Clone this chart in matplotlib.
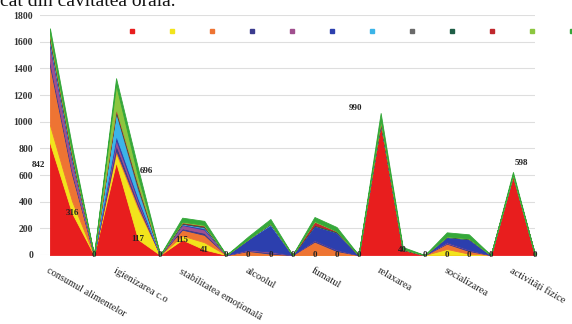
import matplotlib
matplotlib.use("Agg")
import matplotlib.pyplot as plt
from matplotlib.lines import Line2D
import numpy as np

# 23 answer points; every third category carries a label
categories = ["consumul alimentelor", "igienizarea c.o", "stabilitatea emoțională",
              "alcoolul", "fumatul", "relaxarea", "socializarea", "activități fizice"]
label_every = 3

red     = [842, 316, 0, 696, 117, 0, 115, 41, 0, 0, 0, 0, 0, 0, 0, 990, 40, 0, 0, 0, 0, 598, 0]
yellow  = [133, 90, 0, 70, 230, 0, 30, 55, 0, 0, 0, 0, 0, 0, 0, 0, 0, 0, 45, 10, 0, 0, 0]
orange  = [445, 200, 0, 20, 20, 0, 45, 55, 0, 30, 10, 0, 100, 30, 0, 0, 0, 0, 40, 20, 0, 0, 0]
navy    = [30, 20, 0, 40, 20, 0, 10, 15, 0, 5, 10, 0, 10, 10, 0, 0, 0, 0, 5, 10, 0, 0, 0]
mauve   = [120, 80, 0, 40, 20, 0, 25, 25, 0, 5, 5, 0, 0, 0, 0, 0, 0, 0, 5, 0, 0, 0, 0]
blue    = [20, 10, 0, 30, 20, 0, 5, 10, 0, 80, 200, 0, 110, 130, 0, 0, 0, 0, 40, 80, 0, 0, 0]
cyan    = [10, 10, 0, 170, 60, 0, 5, 5, 0, 0, 5, 0, 0, 0, 0, 0, 0, 0, 0, 0, 0, 0, 0]
gray    = [20, 10, 0, 10, 20, 0, 0, 5, 0, 0, 5, 0, 0, 0, 0, 0, 0, 0, 0, 0, 0, 0, 0]
dkgreen = [10, 10, 0, 10, 10, 0, 5, 5, 0, 0, 5, 0, 5, 5, 0, 5, 0, 0, 5, 5, 0, 0, 0]
dkred   = [10, 10, 0, 10, 10, 0, 5, 5, 0, 0, 0, 0, 25, 5, 0, 10, 5, 0, 0, 0, 0, 0, 0]
ltgreen = [20, 20, 0, 180, 60, 0, 5, 5, 0, 0, 0, 0, 5, 0, 0, 10, 0, 0, 0, 0, 0, 5, 0]
green   = [40, 40, 0, 50, 60, 0, 30, 30, 0, 20, 30, 0, 30, 30, 0, 50, 15, 0, 30, 30, 0, 20, 0]

series = [red, yellow, orange, navy, mauve, blue, cyan, gray, dkgreen, dkred, ltgreen, green]
colors = ["#e81e1e", "#f2e41c", "#ee7433", "#3b3b8e", "#a04f8e", "#2c3fae",
          "#3cb4e8", "#6a6a6a", "#1f5e46", "#c0282d", "#8cc63f", "#35a83a"]

# offsets (points) for the value labels of the first series
label_offsets = {0: (-8, -16), 3: (22, -6), 15: (-18, 11), 21: (6, 9)}

plt.rcParams["font.family"] = ["Liberation Serif", "DejaVu Serif"]

fig = plt.figure(figsize=(5.72, 3.24), dpi=100)
ax = fig.add_axes([40 / 572, 1 - 255 / 324, 495 / 572, 240 / 324])

x = np.arange(len(red))
polys = ax.stackplot(x, *series, colors=colors, linewidth=0.6)
for p, c in zip(polys, colors):
    p.set_edgecolor(c)

# value labels for the first series
for i, v in enumerate(red):
    dx, dy = label_offsets.get(i, (0, 0))
    ax.annotate(str(v), (i, v), xytext=(dx, dy), textcoords="offset points",
                ha="center", va="center", fontsize=6.5, color="#222222",
                fontweight="bold")

ax.set_xlim(-0.45, len(red) - 1)
ax.set_ylim(0, 1800)
ax.set_yticks(np.arange(0, 1801, 200))
ax.yaxis.grid(True, color="#dedede", linewidth=0.8)
ax.set_axisbelow(True)
ax.tick_params(axis="y", length=0, pad=5, labelsize=7, labelcolor="#333333")
for lab in ax.get_yticklabels():
    lab.set_fontweight("bold")

ax.set_xticks(x[::label_every])
ax.set_xticklabels(categories, rotation=-30, ha="left", va="top",
                   rotation_mode="anchor", fontsize=7.5, color="#222222")
ax.tick_params(axis="x", length=0, pad=8)
for s in ax.spines.values():
    s.set_visible(False)

handles = [Line2D([], [], marker="s", linestyle="none", color=c, markersize=3.5)
           for c in colors]
fig.legend(handles, [""] * len(colors), ncol=len(colors), frameon=False,
           loc="center left", bbox_to_anchor=(126 / 572, 1 - 32 / 324),
           handlelength=1.0, handletextpad=0.0, columnspacing=2.6,
           fontsize=8, borderaxespad=0, borderpad=0)

fig.text(0.0, 1 - 6 / 324, "cât din cavitatea orală.", fontsize=14,
         va="baseline", ha="left", color="#111111")

fig.savefig("out.png", dpi=100)
